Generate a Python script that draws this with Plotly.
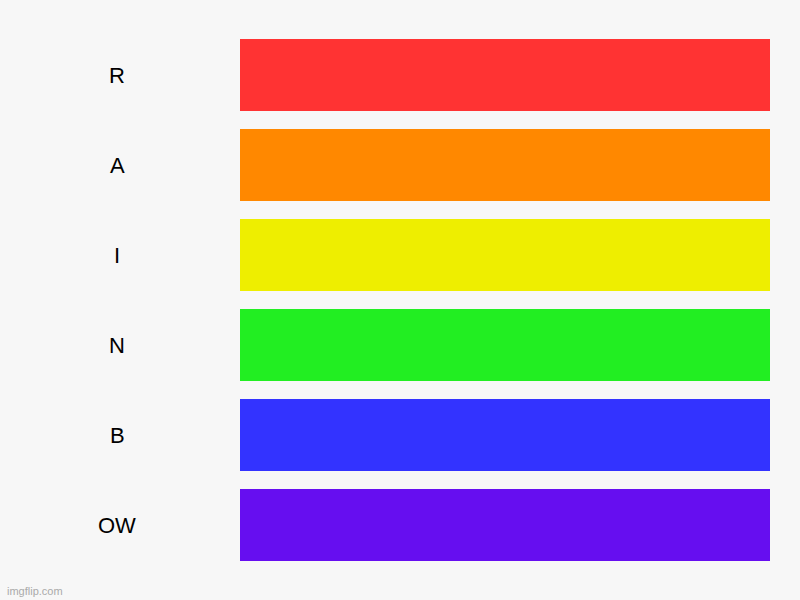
import plotly.graph_objects as go

# rows, top to bottom
labels = ["R", "A", "I", "N", "B", "OW"]
values = [1, 1, 1, 1, 1, 1]
colors = ["#ff3333", "#ff8800", "#eeee00", "#22ee22", "#3333ff", "#660ef0"]

fig = go.Figure(go.Bar(
    x=values, y=labels, orientation="h",
    marker=dict(color=colors, line=dict(width=0)),
    hoverinfo="skip",
))

# labels centred in the left gutter
for lab in labels:
    fig.add_annotation(x=-0.232, xref="paper", y=lab, yref="y", text=lab,
                       showarrow=False, xanchor="center",
                       font=dict(size=22, color="#000000"))

# watermark, bottom-left
fig.add_annotation(x=-0.443, y=-0.039, xref="paper", yref="paper",
                   text="imgflip.com", showarrow=False,
                   xanchor="left", yanchor="middle",
                   font=dict(size=11, color="#aaaaaa"))

fig.update_layout(
    width=800, height=600,
    margin=dict(l=240, r=30, t=30, b=30),
    paper_bgcolor="#f7f7f7", plot_bgcolor="#f7f7f7",
    bargap=0.2,
    showlegend=False,
    font=dict(family="Liberation Sans, Arial, sans-serif"),
    xaxis=dict(visible=False, range=[0, 1]),
    yaxis=dict(autorange="reversed", showticklabels=False, showgrid=False,
               zeroline=False, ticks=""),
)

fig.write_html("out.html", config={"displayModeBar": False},
               post_script="document.body.style.margin='0';")
